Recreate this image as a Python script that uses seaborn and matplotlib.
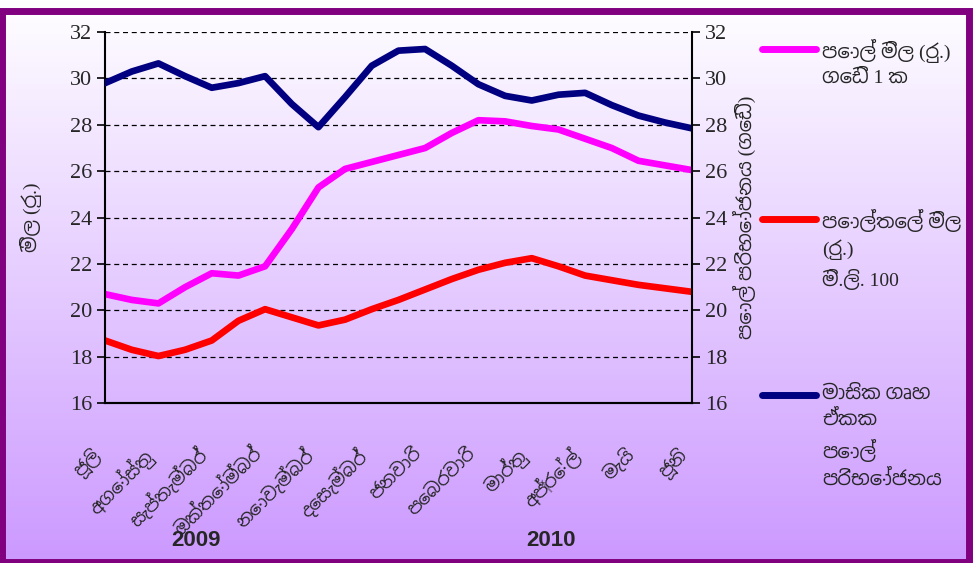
import matplotlib
matplotlib.use("Agg")
import matplotlib.pyplot as plt
from matplotlib.lines import Line2D
from matplotlib.patches import Rectangle
from matplotlib import font_manager
import numpy as np
import seaborn as sns

# month labels (July 2009 - June 2010)
months = ["ජූලි", "අගෝස්තු", "සැප්තැම්බර්", "ඔක්තෝම්බර්", "නොවැම්බර්", "දෙසැම්බර්",
          "ජනවාරි", "පෙබරවාරි", "මාර්තු", "අප්‍රේල්", "මැයි", "ජූනි"]
years = ["2009", "2010"]

# readings every half month
period = [0, 0.5, 1, 1.5, 2, 2.5, 3, 3.5, 4, 4.5, 5, 5.5,
          6, 6.5, 7, 7.5, 8, 8.5, 9, 9.5, 10, 10.5, 11]

coconut_price = [20.7, 20.45, 20.3, 21.0, 21.6, 21.5, 21.9, 23.5, 25.3, 26.1, 26.4, 26.7,
                 27.0, 27.65, 28.2, 28.15, 27.95, 27.8, 27.4, 27.0, 26.45, 26.25, 26.05]
oil_price = [18.7, 18.3, 18.03, 18.3, 18.7, 19.55, 20.05, 19.7, 19.35, 19.6, 20.05, 20.45,
             20.9, 21.35, 21.75, 22.05, 22.25, 21.9, 21.5, 21.3, 21.1, 20.95, 20.8]
consumption = [29.8, 30.3, 30.65, 30.1, 29.6, 29.8, 30.1, 28.9, 27.9, 29.2, 30.55, 31.2,
               31.27, 30.55, 29.75, 29.25, 29.05, 29.3, 29.38, 28.85, 28.4, 28.1, 27.85]

y_ticks = [16, 18, 20, 22, 24, 26, 28, 30, 32]

labels = ["පොල් මිල (රු.)\nගෙඩි 1 ක",
          "පොල්තෙල් මිල\n(රු.)\nමි.ලි. 100",
          "මාසික ගෘහ\nඒකක\nපොල්\nපරිභෝජනය"]
colors = ["#FF00FF", "#FF0000", "#000080"]

sns.set_theme(style="white")
# serif for digits and brackets, Sinhala font picks up the rest
sin_fonts = sorted({f.name for f in font_manager.fontManager.ttflist
                    if "inhala" in f.name or "Iskoola" in f.name})
plt.rcParams["font.family"] = ["Liberation Serif"] + sin_fonts + ["DejaVu Serif", "DejaVu Sans"]

fig = plt.figure(figsize=(9.73, 5.63), dpi=100)

# gradient background
bg = fig.add_axes([0, 0, 1, 1], zorder=-10)
grad = np.linspace(0, 1, 256).reshape(-1, 1)
cmap = matplotlib.colors.LinearSegmentedColormap.from_list("bg", ["#FFFFFF", "#CC99FF"])
bg.imshow(grad, aspect="auto", cmap=cmap, extent=[0, 1, 0, 1], origin="upper")
bg.axis("off")
fig.add_artist(Rectangle((0.002, 0.002), 0.994, 0.978, transform=fig.transFigure,
                         fill=False, edgecolor="#800080", lw=5))

ax = fig.add_axes([0.108, 0.284, 0.603, 0.659])
ax.set_facecolor("none")
ax2 = ax.twinx()

line_kw = dict(lw=4.8, solid_joinstyle="round", solid_capstyle="round")
sns.lineplot(x=period, y=coconut_price, ax=ax, color=colors[0], **line_kw)
sns.lineplot(x=period, y=oil_price, ax=ax, color=colors[1], **line_kw)
sns.lineplot(x=period, y=consumption, ax=ax2, color=colors[2], **line_kw)

for a in (ax, ax2):
    a.set_ylim(16, 32)
    a.set_yticks(y_ticks)
    a.tick_params(axis="y", labelsize=16, length=6, width=1.2, color="black", direction="out")
    for s in a.spines.values():
        s.set_color("black")
        s.set_linewidth(1.5)
    a.spines["top"].set_visible(False)
ax.spines["right"].set_visible(False)
ax2.spines["left"].set_visible(False)

ax.set_xlim(0, 11)
ax.set_xticks(range(len(months)))
ax.set_xticklabels(months, rotation=45, ha="right", va="top", fontsize=13)
ax.tick_params(axis="x", length=6, width=1.2, color="black", direction="out", pad=24)
ax.tick_params(axis="y", left=True)
ax2.tick_params(axis="y", right=True)
ax.grid(axis="y", color="black", linestyle=(0, (4, 3)), lw=0.9)
ax.grid(axis="x", visible=False)
ax2.grid(False)

ax.set_ylabel("මිල (රු.)", fontsize=14, labelpad=20)
ax2.set_ylabel("පොල් පරිභෝජනය (ගෙඩි)", fontsize=14, rotation=90, labelpad=4)

for yr, xpos in zip(years, [0.201, 0.566]):
    fig.text(xpos, 0.04, yr, ha="center", va="center", fontsize=16, fontweight="bold",
             family=["Liberation Sans", "DejaVu Sans"])

# legend drawn at the right
for lab, col, ytop in zip(labels, colors, [0.913, 0.611, 0.298]):
    fig.add_artist(Line2D([0.783, 0.839], [ytop, ytop], color=col, lw=5, solid_capstyle="round",
                          transform=fig.transFigure))
    fig.text(0.845, ytop + 0.018, lab, ha="left", va="top", fontsize=14, linespacing=1.5)

fig.savefig("out.png", dpi=100)
